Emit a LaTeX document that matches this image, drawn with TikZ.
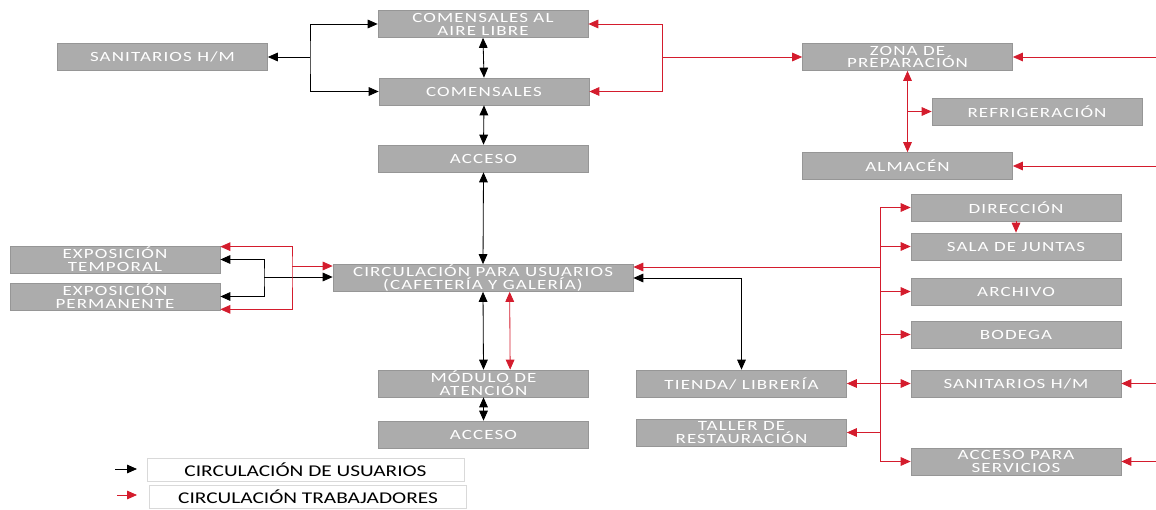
\documentclass[tikz,border=0pt]{standalone}
\usepackage{fontspec}
\usepackage{tikz}
\usetikzlibrary{arrows.meta, positioning, calc}
\newfontfamily\cajafont[FakeStretch=1.35,LetterSpace=8]{Carlito}
\newfontfamily\leyfont[FakeStretch=1.3]{Carlito}
\definecolor{CajaGris}{RGB}{172, 172, 172}
\definecolor{BordeGris}{RGB}{150, 150, 150}
\definecolor{TrabRojo}{RGB}{212, 28, 45}

\begin{document}
\begin{tikzpicture}[x=0.03cm, y=-0.03cm,
    caja/.style={rectangle, fill=CajaGris, draw=BordeGris, line width=0.6pt,
        minimum width=6.3cm, minimum height=0.81cm, inner sep=0pt,
        text=white, align=center, font=\cajafont\fontsize{12}{11}\selectfont},
    usr/.style={line width=0.7pt, black, {Triangle[length=3mm,width=2.6mm]}-{Triangle[length=3mm,width=2.6mm]}},
    trab/.style={line width=0.7pt, TrabRojo, {Triangle[length=3mm,width=2.6mm]}-{Triangle[length=3mm,width=2.6mm]}},
    ida/.style={-{Triangle[length=3mm,width=2.6mm]}},
    ley/.style={rectangle, draw=black!15, line width=0.4pt, minimum width=9.5cm,
        minimum height=0.7cm, font=\leyfont\fontsize{14}{14}\selectfont}]
    \useasboundingbox (0,0) rectangle (1156,510);

    % zona de comensales
    \node[caja] (sanL) at (162.5,57) {SANITARIOS H/M};
    \node[caja] (comAire) at (483,24) {COMENSALES AL\\AIRE LIBRE};
    \node[caja] (com) at (484,91.5) {COMENSALES};
    \node[caja] (acc1) at (483.5,158.5) {ACCESO};
    \node[caja] (zona) at (907.5,57) {ZONA DE\\PREPARACIÓN};
    \node[caja] (refri) at (1037,111.5) {REFRIGERACIÓN};
    \node[caja] (alm) at (907.5,166) {ALMACÉN};

    % circulacion central
    \node[caja] (expT) at (115,259.5) {EXPOSICIÓN\\TEMPORAL};
    \node[caja] (expP) at (115,296.5) {EXPOSICIÓN\\PERMANENTE};
    \node[caja, minimum width=9cm] (circ) at (483,278) {CIRCULACIÓN PARA USUARIOS\\(CAFETERÍA Y GALERÍA)};
    \node[caja] (mod) at (483.5,383.5) {MÓDULO DE\\ATENCIÓN};
    \node[caja] (acc2) at (483.5,434.5) {ACCESO};
    \node[caja] (tienda) at (741.5,383.5) {TIENDA/ LIBRERÍA};
    \node[caja] (taller) at (741.5,432.5) {TALLER DE\\RESTAURACIÓN};

    % administracion
    \node[caja] (dir) at (1016,207.5) {DIRECCIÓN};
    \node[caja] (sala) at (1016,246.5) {SALA DE JUNTAS};
    \node[caja] (arch) at (1016,291.5) {ARCHIVO};
    \node[caja] (bod) at (1016,334.5) {BODEGA};
    \node[caja] (sanR) at (1016,383.5) {SANITARIOS H/M};
    \node[caja] (accS) at (1016,461.5) {ACCESO PARA\\SERVICIOS};

    \coordinate (jS) at (310,57);
    \coordinate (jC) at (662,57);
    \coordinate (jE) at (264,277);
    \coordinate (jR) at (292,266);
    \coordinate (tC) at (880,267);
    \coordinate (borde) at (1156,0);

    % circulacion de usuarios
    \draw[usr] (comAire.west) -| (jS) |- (com.west);
    \draw[usr, ida] (jS) -- (sanL.east);
    \draw[usr] (comAire.south) -- (com.north);
    \draw[usr] (com.south) -- (acc1.north);
    \draw[usr] (acc1.south) -- (circ.north);
    \draw[usr] (circ.south) -- (mod.north);
    \draw[usr] (mod.south) -- (acc2.north);
    \draw[usr] (expT.east) -| (jE) |- (expP.east);
    \draw[usr, ida] (jE) -- (circ.west |- jE);
    \draw[usr] (circ.east) -| (tienda.north);

    % circulacion de trabajadores
    \draw[trab] (comAire.east) -| (jC) |- (com.east);
    \draw[trab, ida] (jC) -- (zona.west);
    \draw[trab] (zona.south) -- (alm.north);
    \draw[trab, ida] (zona.south |- refri.west) -- (refri.west);
    \draw[trab] ([xshift=0.8cm]circ.south) -- ([xshift=0.8cm]mod.north);
    \draw[trab] ([yshift=-0.03cm]expT.north east) -| (jR) |- ([yshift=0.03cm]expP.south east);
    \draw[trab, ida] (jR) -- (circ.west |- jR);
    \draw[trab, -] (dir.west -| tC) -- (accS.west -| tC);
    \draw[trab, ida] (tC) -- (circ.east |- tC);
    \foreach \n in {dir, sala, arch, bod, accS}
        \draw[trab, ida] (\n.west -| tC) -- (\n.west);
    \draw[trab] (tienda.east) -- (sanR.west);
    \draw[trab, ida] (taller.east -| tC) -- (taller.east);
    \draw[trab, ida] (dir.south) -- (sala.north);
    \foreach \n in {zona, alm, sanR, accS}
        \draw[trab, ida] (\n.east -| borde) -- (\n.east);

    % leyenda
    \node[ley] (leyU) at (305.5,470) {CIRCULACIÓN DE USUARIOS};
    \node[ley] (leyT) at (308,496.5) {CIRCULACIÓN TRABAJADORES};
    \coordinate (fU) at (115,469);
    \coordinate (fT) at (117,495);
    \draw[usr, ida] (fU) -- ++(22,0);
    \draw[trab, ida] (fT) -- ++(20,0);
\end{tikzpicture}
\end{document}
